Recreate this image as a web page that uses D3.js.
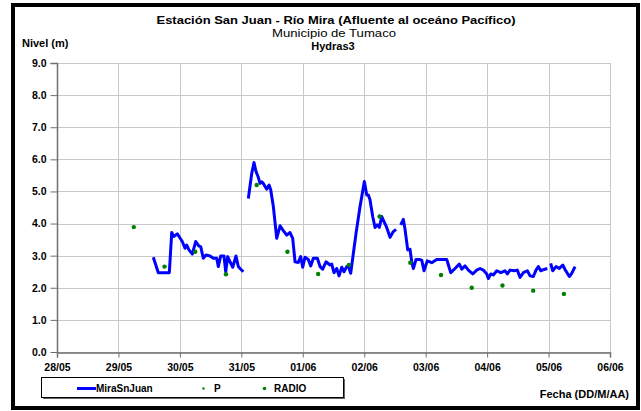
<!DOCTYPE html>
<html>
<head>
<meta charset="utf-8">
<script src="https://cdn.jsdelivr.net/npm/d3@7"></script>
<style>
  html, body { margin: 0; padding: 0; background: #fff; }
  svg { display: block; font-family: "Liberation Sans", Arial, sans-serif; }
</style>
</head>
<body>
<svg id="chart" width="641" height="411"></svg>
<script>
// ---- data (time = days after 28/05 00:00) ----
const xTickLabels = ["28/05","29/05","30/05","31/05","01/06","02/06","03/06","04/06","05/06","06/06"];
const yTickLabels = ["0.0","1.0","2.0","3.0","4.0","5.0","6.0","7.0","8.0","9.0"];

// MiraSnJuan level series, null marks a gap in the record
const lineTimes = [
  1.567,1.649,1.828,1.867,1.904,1.958,2.002,2.039,2.083,2.111,2.148,2.202,2.257,2.311,2.339,2.381,2.425,2.490,2.544,2.599,2.625,2.664,2.718,2.746,2.778,2.816,2.860,2.913,2.951,2.979,3.032,
  3.07,
  3.114,3.169,3.206,3.239,3.276,3.304,3.332,3.358,3.413,3.451,3.478,3.521,3.576,3.630,3.683,3.739,3.792,3.836,3.874,3.927,3.966,3.999,4.036,4.090,4.129,4.172,4.237,4.281,4.324,4.378,4.443,4.471,4.508,4.552,4.590,4.634,4.671,4.715,4.741,4.780,4.867,4.932,5.002,5.041,5.067,5.094,5.138,5.176,5.213,5.246,5.285,5.322,5.366,5.420,5.474,5.518,
  5.55,
  5.594,5.637,5.664,5.708,5.745,5.773,5.799,5.843,5.897,5.936,5.973,6.027,6.099,6.180,6.343,6.408,6.478,6.548,6.587,6.641,6.695,6.766,6.831,6.885,6.938,6.994,7.020,7.059,7.101,7.157,7.222,7.292,7.329,7.373,7.438,7.492,7.536,7.590,7.655,7.699,7.752,7.796,7.834,7.873,7.926,7.980,
  8.01,
  8.035,8.068,8.122,8.175,8.231,8.268,8.338,8.377,8.431
];
const lineValues = [
  2.95,2.47,2.47,3.72,3.60,3.68,3.55,3.44,3.23,3.33,3.18,3.05,3.44,3.30,3.28,2.92,3.02,2.99,2.92,2.92,2.66,2.99,2.99,2.50,2.97,2.81,2.64,2.99,2.66,2.60,2.50,
  null,
  4.78,5.56,5.90,5.62,5.44,5.25,5.30,5.25,5.07,5.20,5.05,4.53,3.54,3.93,3.78,3.64,3.72,3.54,2.81,2.79,2.97,2.64,2.95,2.88,2.68,2.92,2.92,2.66,2.58,2.81,2.71,2.74,2.47,2.60,2.37,2.64,2.50,2.66,2.68,2.45,3.70,4.53,5.31,4.89,4.89,4.74,4.22,3.88,3.96,3.88,4.22,4.06,3.88,3.57,3.75,3.82,
  null,
  3.96,4.13,3.82,3.18,3.20,2.81,2.60,2.88,2.88,2.86,2.53,2.84,2.78,2.88,2.88,2.47,2.60,2.74,2.58,2.68,2.55,2.43,2.55,2.60,2.55,2.43,2.29,2.43,2.40,2.53,2.47,2.53,2.43,2.55,2.53,2.55,2.32,2.47,2.53,2.37,2.35,2.55,2.66,2.53,2.57,2.60,
  null,
  2.76,2.53,2.66,2.60,2.71,2.57,2.35,2.45,2.66
];

// RADIO readings
const radioTimes  = [1.25,1.75,2.25,2.75,3.25,3.75,4.25,4.75,5.25,5.75,6.25,6.75,7.25,7.75,8.25];
const radioValues = [3.89,2.66,3.12,2.42,5.20,3.12,2.43,2.71,4.22,2.78,2.40,2.00,2.07,1.91,1.81];

// P readings (none visible)
const pTimes = [];
const pValues = [];

const seriesNames = ["MiraSnJuan","P","RADIO"];

// ---- drawing ----
const base = new Date(2012, 4, 28, 0, 0, 0);
const toDate = d => new Date(base.getTime() + d * 86400000);
const tickDates = xTickLabels.map((_, i) => toDate(i));

const svg = d3.select("#chart");
const plot = {left: 57, right: 610, top: 63, bottom: 352};

const x = d3.scaleTime().domain([toDate(0), toDate(9)]).range([plot.left, plot.right]);
const y = d3.scaleLinear().domain([0, 9]).range([plot.bottom, plot.top]);

// outer frame
svg.append("rect").attr("x", 13).attr("y", 5).attr("width", 625).attr("height", 403)
  .attr("fill", "#fff").attr("stroke", "#000").attr("stroke-width", 4);

// grid
const g = svg.append("g");
g.selectAll(".hg").data(yTickLabels.map((_, i) => i)).enter().append("line")
  .attr("x1", plot.left).attr("x2", plot.right)
  .attr("y1", d => Math.round(y(d)) + 0.5).attr("y2", d => Math.round(y(d)) + 0.5)
  .attr("stroke", "#c8c8c8").attr("stroke-width", 1);
g.selectAll(".vg").data(tickDates).enter().append("line")
  .attr("y1", plot.top).attr("y2", plot.bottom)
  .attr("x1", d => Math.round(x(d)) + 0.5).attr("x2", d => Math.round(x(d)) + 0.5)
  .attr("stroke", "#c8c8c8").attr("stroke-width", 1);

// axes
const yAxis = d3.axisLeft(y).tickValues(yTickLabels.map((_, i) => i))
  .tickFormat((d, i) => yTickLabels[i]).tickSize(7).tickPadding(4);
const ya = svg.append("g").attr("transform", `translate(${plot.left + 0.5},0)`).call(yAxis);
const xAxis = d3.axisBottom(x).tickValues(tickDates)
  .tickFormat((d, i) => xTickLabels[i]).tickSize(5).tickPadding(6);
const xa = svg.append("g").attr("transform", `translate(0,${plot.bottom + 0.5})`).call(xAxis);
[ya, xa].forEach(a => {
  a.select(".domain").attr("stroke", "#707070").attr("stroke-width", 1.5);
  a.selectAll(".tick line").attr("stroke", "#707070");
  a.selectAll("text").attr("fill", "#000").attr("font-size", "10.5px").attr("font-weight", "bold")
    .attr("font-family", "'Liberation Sans', Arial, sans-serif");
});
ya.select(".domain").attr("d", `M-7,${plot.top + 0.5}H0V${plot.bottom + 0.5}`);

// line
const line = d3.line()
  .defined((d, i) => lineValues[i] !== null)
  .x((d, i) => x(toDate(lineTimes[i])))
  .y((d, i) => y(lineValues[i]));
svg.append("path").datum(lineTimes).attr("d", line)
  .attr("fill", "none").attr("stroke", "#0000ff").attr("stroke-width", 3)
  .attr("stroke-linejoin", "round").attr("stroke-linecap", "butt");

// points
svg.append("g").selectAll("circle").data(radioTimes).enter().append("circle")
  .attr("cx", (d) => x(toDate(d))).attr("cy", (d, i) => y(radioValues[i]))
  .attr("r", 2.2).attr("fill", "#008000");
svg.append("g").selectAll("circle").data(pTimes).enter().append("circle")
  .attr("cx", (d) => x(toDate(d))).attr("cy", (d, i) => y(pValues[i]))
  .attr("r", 1.3).attr("fill", "#008000");

// titles
const font = "'Liberation Sans', Arial, sans-serif";
svg.append("text").attr("x", 336).attr("y", 24).attr("text-anchor", "middle")
  .attr("font-family", font).attr("font-weight", "bold").attr("font-size", "11.5px")
  .attr("textLength", 359).attr("lengthAdjust", "spacingAndGlyphs")
  .text("Estación San Juan  - Río Mira (Afluente al oceáno Pacífico)");
svg.append("text").attr("x", 334).attr("y", 37).attr("text-anchor", "middle")
  .attr("font-family", font).attr("font-size", "11px")
  .attr("textLength", 124).attr("lengthAdjust", "spacingAndGlyphs")
  .text("Municipio de Tumaco");
svg.append("text").attr("x", 333).attr("y", 50).attr("text-anchor", "middle")
  .attr("font-family", font).attr("font-weight", "bold").attr("font-size", "11px")
  .text("Hydras3");
svg.append("text").attr("x", 22).attr("y", 47)
  .attr("font-family", font).attr("font-weight", "bold").attr("font-size", "11px")
  .text("Nivel (m)");
svg.append("text").attr("x", 629).attr("y", 398).attr("text-anchor", "end")
  .attr("font-family", font).attr("font-weight", "bold").attr("font-size", "11px")
  .text("Fecha (DD/M/AA)");

// legend
const lg = svg.append("g");
lg.append("rect").attr("x", 43).attr("y", 379).attr("width", 302).attr("height", 20).attr("fill", "#666");
lg.append("rect").attr("x", 41.5).attr("y", 377.5).attr("width", 302).attr("height", 20)
  .attr("fill", "#fff").attr("stroke", "#000").attr("stroke-width", 1);
lg.append("line").attr("x1", 77).attr("x2", 96).attr("y1", 388.5).attr("y2", 388.5)
  .attr("stroke", "#0000ff").attr("stroke-width", 3);
lg.append("text").attr("x", 96).attr("y", 392).attr("font-family", font)
  .attr("font-weight", "bold").attr("font-size", "10px").text(seriesNames[0]);
lg.append("circle").attr("cx", 203.5).attr("cy", 388.5).attr("r", 1.2).attr("fill", "#008000");
lg.append("text").attr("x", 214).attr("y", 392).attr("font-family", font)
  .attr("font-weight", "bold").attr("font-size", "10px").text(seriesNames[1]);
lg.append("circle").attr("cx", 264.5).attr("cy", 388.5).attr("r", 1.8).attr("fill", "#008000");
lg.append("text").attr("x", 274).attr("y", 392).attr("font-family", font)
  .attr("font-weight", "bold").attr("font-size", "10px").text(seriesNames[2]);
</script>
</body>
</html>
